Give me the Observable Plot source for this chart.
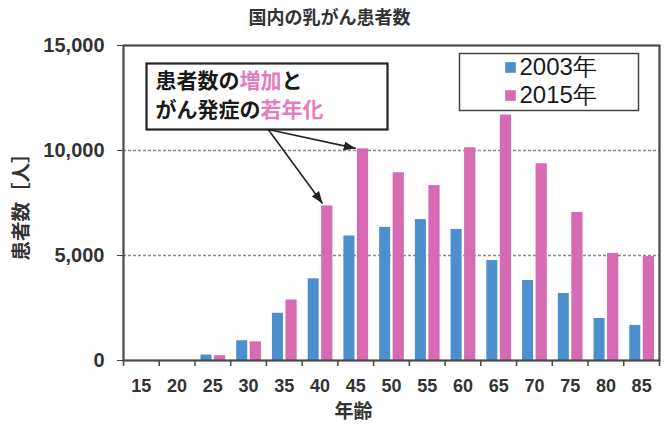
<!DOCTYPE html>
<html>
<head>
<meta charset="utf-8">
<script src="https://cdn.jsdelivr.net/npm/d3@7"></script>
<script src="https://cdn.jsdelivr.net/npm/@observablehq/plot@0.6"></script>
<style>
  html, body { margin: 0; padding: 0; background: #fff; }
  svg { display: block; }
</style>
</head>
<body>
<div id="chart"></div>
<script>
// ---- data ----
const ages = [15, 20, 25, 30, 35, 40, 45, 50, 55, 60, 65, 70, 75, 80, 85];
const cases2003 = [0, 0, 260, 940, 2250, 3890, 5930, 6340, 6710, 6240, 4760, 3810, 3190, 2000, 1670];
const cases2015 = [0, 0, 230, 890, 2880, 7360, 10080, 8940, 8330, 10130, 11690, 9370, 7050, 5100, 4950];
const yTicks = [0, 5000, 10000, 15000];
const seriesNames = ["2003年", "2015年"];
const seriesColors = ["#4b8fcf", "#d66bb3"];
const highlightColor = "#e37dbd";
const titleText = "国内の乳がん患者数";
const yLabel = "患者数［人］";
const xLabel = "年齢";
// annotation text segments: [text, highlighted?, char offset]
const noteLine1 = [["患者数の", false, 0], ["増加", true, 4], ["と", false, 6]];
const noteLine2 = [["がん発症の", false, 0], ["若年化", true, 5]];
// annotation arrows (data units): from the note box to the bar tops
const arrowX1 = [32.75, 32.75];
const arrowY1 = [11000, 11000];
const arrowX2 = [45, 40.35];
const arrowY2 = [10100, 7480];

// ---- build ----
const rows = ages.map((age, i) => ({age, y2003: cases2003[i], y2015: cases2015[i]}));
const arrows = arrowX1.map((x1, i) => ({x1, y1: arrowY1[i], x2: arrowX2[i], y2: arrowY2[i]}));
const half = (ages[1] - ages[0]) / 2;
const boundaries = ages.map(a => a - half).concat([ages[ages.length - 1] + half]);

const numFont = "'Liberation Sans', Arial, sans-serif";
const cjkFont = "'Noto Sans CJK JP', 'Noto Sans', sans-serif";
const ink = "#333";

function filledArrowHead(color) {
  const m = d3.create("svg:marker")
    .attr("viewBox", "-12 -5 12 10")
    .attr("markerWidth", 12)
    .attr("markerHeight", 10)
    .attr("markerUnits", "userSpaceOnUse")
    .attr("refX", 0)
    .attr("refY", 0)
    .attr("orient", "auto");
  m.append("path").attr("d", "M-12,-4.5L0,0L-12,4.5Z").attr("fill", color).attr("stroke", "none");
  return m.node();
}

const noteMarks = [];
const fs = 21;
[[noteLine1, 36], [noteLine2, 65]].forEach(([line, dy]) => {
  line.forEach(([txt, hi, off]) => {
    noteMarks.push(Plot.text([txt], {
      frameAnchor: "top-left", textAnchor: "start", lineAnchor: "middle", dx: 32 + off * fs, dy,
      fontSize: fs, fontWeight: "bold", fontFamily: cjkFont,
      fill: hi ? highlightColor : "#1a1a1a"
    }));
  });
});

const legendMarks = [];
seriesNames.forEach((name, i) => {
  legendMarks.push(Plot.dot([name], {
    frameAnchor: "top-left", dx: 387, dy: 22 + i * 28,
    symbol: "square", r: 6, fill: seriesColors[i], stroke: null
  }));
  legendMarks.push(Plot.text([name], {
    frameAnchor: "top-left", textAnchor: "start", lineAnchor: "middle", dx: 396, dy: 22 + i * 28,
    fontSize: 24, fontFamily: numFont, fill: "#1a1a1a"
  }));
});

let arrowMark;
try {
  arrowMark = Plot.link(arrows, {x1: "x1", y1: "y1", x2: "x2", y2: "y2", stroke: "#222", strokeWidth: 1.6, markerEnd: filledArrowHead});
} catch (e) {
  arrowMark = Plot.arrow(arrows, {x1: "x1", y1: "y1", x2: "x2", y2: "y2", stroke: "#222", strokeWidth: 1.6, headLength: 12, headAngle: 40});
}

const chart = Plot.plot({
  width: 667,
  height: 432,
  marginLeft: 123,
  marginRight: 8,
  marginTop: 45,
  marginBottom: 72,
  style: {background: "#fff", fontFamily: numFont, color: ink},
  x: {type: "linear", domain: [ages[0] - half, ages[ages.length - 1] + half]},
  y: {domain: [yTicks[0], yTicks[yTicks.length - 1]]},
  marks: [
    Plot.gridY(yTicks.slice(1, -1), {stroke: "#888", strokeOpacity: 1, strokeWidth: 1.3, strokeDasharray: "3,2"}),
    Plot.rectY(rows, {x1: d => d.age - half, x2: d => d.age + half, y: "y2003", fill: seriesColors[0], insetLeft: 6, insetRight: 18.7}),
    Plot.rectY(rows, {x1: d => d.age - half, x2: d => d.age + half, y: "y2015", fill: seriesColors[1], insetLeft: 19.5, insetRight: 5}),
    Plot.frame({stroke: "#4a4a4a", strokeWidth: 2.2}),
    Plot.axisY(yTicks, {tickSize: 6, tickPadding: 13, tickFormat: d3.format(","), label: null,
      fontSize: 20, fontWeight: "bold", fontFamily: numFont, fill: ink, stroke: "#444"}),
    Plot.axisX(ages, {tickSize: 0, tickPadding: 19, tickFormat: d => String(d), label: null,
      fontSize: 18, fontWeight: "bold", fontFamily: numFont, fill: ink}),
    Plot.axisX(boundaries, {tickSize: 6, tickFormat: () => "", label: null, stroke: "#444", strokeWidth: 1.5}),
    Plot.text([titleText], {frameAnchor: "top", lineAnchor: "middle", dx: -62, dy: -27, fontSize: 18, fontWeight: "bold", fontFamily: cjkFont, fill: ink}),
    Plot.text([yLabel], {frameAnchor: "left", textAnchor: "middle", lineAnchor: "middle", rotate: -90, dx: -102, dy: -1, fontSize: 19.5, fontWeight: "bold", fontFamily: cjkFont, fill: ink}),
    Plot.text([xLabel], {frameAnchor: "bottom", lineAnchor: "middle", dx: -38, dy: 51, fontSize: 19, fontWeight: "bold", fontFamily: cjkFont, fill: ink}),
    Plot.frame({insetLeft: 336, insetRight: 21, insetTop: 8, insetBottom: 250, stroke: "#444", strokeWidth: 1.5, fill: "#fff"}),
    ...legendMarks,
    Plot.frame({insetLeft: 23, insetRight: 272, insetTop: 18, insetBottom: 231, stroke: "#222", strokeWidth: 2.2, fill: "#fff"}),
    ...noteMarks,
    arrowMark
  ]
});
document.getElementById("chart").appendChild(chart);
</script>
</body>
</html>
